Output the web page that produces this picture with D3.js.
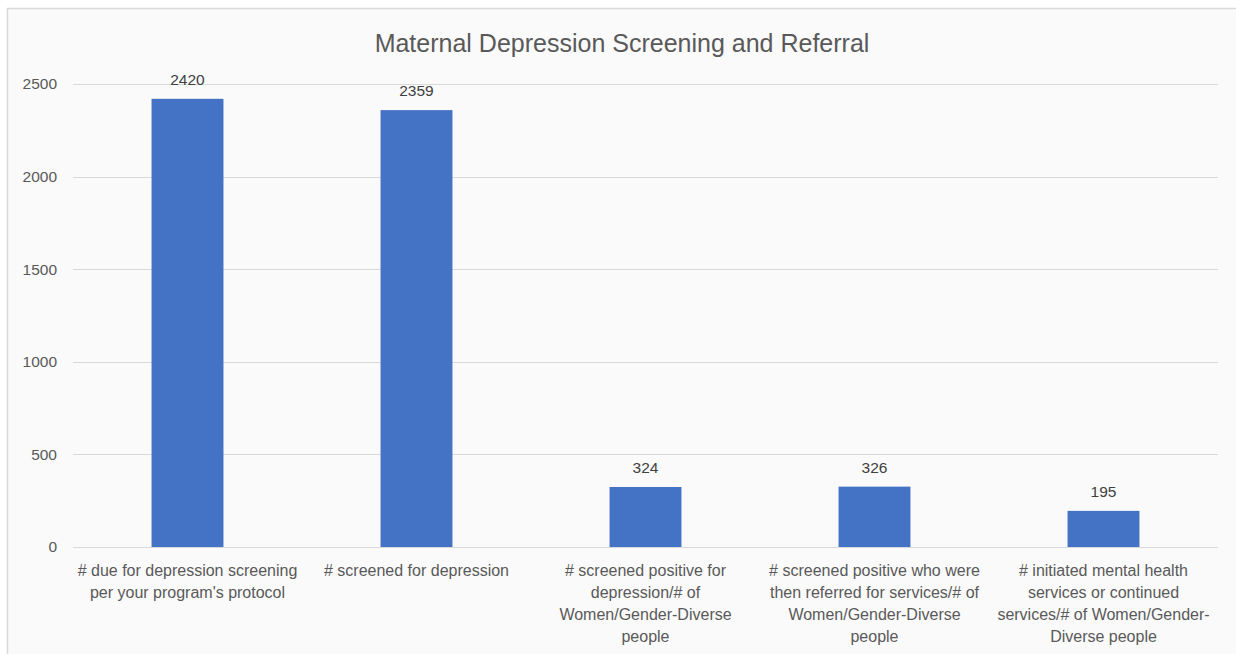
<!DOCTYPE html>
<html>
<head>
<meta charset="utf-8">
<script src="https://cdn.jsdelivr.net/npm/d3@7"></script>
<style>
  html, body { margin: 0; padding: 0; background: #ffffff; }
  svg { display: block; }
</style>
</head>
<body>
<script>
const title = "Maternal Depression Screening and Referral";
const categories = [
  "# due for depression screening|per your program's protocol",
  "# screened for depression",
  "# screened positive for|depression/# of|Women/Gender-Diverse|people",
  "# screened positive who were|then referred for services/# of|Women/Gender-Diverse|people",
  "# initiated mental health|services or continued|services/# of Women/Gender-|Diverse people"
];
const values = [2420, 2359, 324, 326, 195];
const yTicks = [0, 500, 1000, 1500, 2000, 2500];

const W = 1236, H = 654;
const svg = d3.select("body").append("svg").attr("width", W).attr("height", H);

svg.append("rect").attr("x", 7.5).attr("y", 8.5).attr("width", W).attr("height", H)
  .attr("fill", "#fafafa").attr("stroke", "#d9d9d9").attr("stroke-width", 1.5);

const font = "'Liberation Sans', 'Open Sans', sans-serif";
const plot = { left: 73, right: 1218, top: 84, bottom: 547 };

const x = d3.scaleBand().domain(d3.range(categories.length))
  .range([plot.left, plot.right]).paddingInner(0.686).paddingOuter(0.343);
const y = d3.scaleLinear().domain([0, 2500]).range([plot.bottom, plot.top]);

// gridlines
svg.append("g").selectAll("line").data(yTicks).join("line")
  .attr("x1", plot.left).attr("x2", plot.right)
  .attr("y1", d => Math.round(y(d)) + 0.5).attr("y2", d => Math.round(y(d)) + 0.5)
  .attr("stroke", "#d9d9d9").attr("stroke-width", 1.2);

// y axis labels
const yAxis = d3.axisLeft(y).tickValues(yTicks).tickFormat(d3.format("d")).tickSize(0).tickPadding(0);
const yg = svg.append("g").attr("transform", `translate(57,0)`).call(yAxis);
yg.select(".domain").remove();
yg.selectAll("text").attr("font-family", font).attr("font-size", 15.5).attr("fill", "#595959");

// bars
svg.append("g").selectAll("rect").data(values).join("rect")
  .attr("x", (d, i) => x(i)).attr("width", x.bandwidth())
  .attr("y", d => y(d)).attr("height", d => y(0) - y(d))
  .attr("fill", "#4472c4");

// value labels
svg.append("g").selectAll("text").data(values).join("text")
  .attr("x", (d, i) => x(i) + x.bandwidth() / 2).attr("y", d => y(d) - 14)
  .attr("text-anchor", "middle").attr("font-family", font).attr("font-size", 15.5)
  .attr("fill", "#404040").text(d => d);

// category labels
const cg = svg.append("g").selectAll("text").data(categories).join("text")
  .attr("text-anchor", "middle").attr("font-family", font).attr("font-size", 16)
  .attr("fill", "#595959");
cg.each(function (d, i) {
  const t = d3.select(this);
  d.split("|").forEach((line, j) => {
    t.append("tspan").attr("x", x(i) + x.bandwidth() / 2).attr("y", 576 + j * 22).text(line);
  });
});

// title
svg.append("text").attr("x", 622).attr("y", 52).attr("text-anchor", "middle")
  .attr("font-family", font).attr("font-size", 25).attr("fill", "#595959").text(title);
</script>
</body>
</html>
